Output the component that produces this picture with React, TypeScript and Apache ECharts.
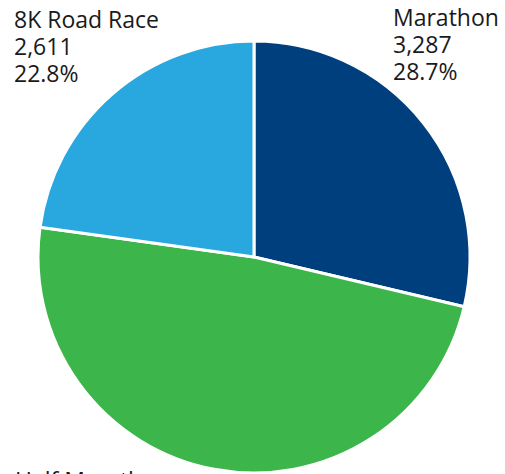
import React, { useEffect, useRef } from "react";
import * as echarts from "echarts";

const categories = ["Marathon", "Half Marathon", "8K Road Race"];
const values = [3287, 5555, 2611];
const colors = ["#003f7d", "#3cb54a", "#29a8e0"];
const labelPositions = [
  { x: 393, y: 3 },
  { x: 15, y: 466 },
  { x: 14, y: 5 },
];

export default function App() {
  const ref = useRef<HTMLDivElement>(null);
  useEffect(() => {
    if (!ref.current) return;
    const chart = echarts.init(ref.current, null, { renderer: "svg" });
    chart.setOption({
      animation: false,
      backgroundColor: "#ffffff",
      series: [
        {
          type: "pie",
          center: [254, 257],
          radius: 216,
          startAngle: 90,
          clockwise: true,
          data: categories.map((c, i) => ({
            name: c,
            value: values[i],
            itemStyle: { color: colors[i] },
          })),
          itemStyle: { borderColor: "#ffffff", borderWidth: 3 },
          label: {
            show: true,
            position: "outside",
            fontFamily: "Open Sans",
            fontSize: 23,
            lineHeight: 27,
            color: "#1a1a1a",
            overflow: "none",
            width: 300,
            formatter: (p: any) =>
              `${p.name}\n${p.value.toLocaleString("en-US")}\n${p.percent.toFixed(1)}%`,
          },
          labelLine: { show: false },
          labelLayout: (params: any) => ({
            x: labelPositions[params.dataIndex].x,
            y: labelPositions[params.dataIndex].y,
            align: "left",
            verticalAlign: "top",
          }),
        },
      ],
    });
    return () => chart.dispose();
  }, []);
  return (
    <div
      ref={ref}
      style={{ position: "fixed", left: 0, top: 0, width: 505, height: 474 }}
    />
  );
}
